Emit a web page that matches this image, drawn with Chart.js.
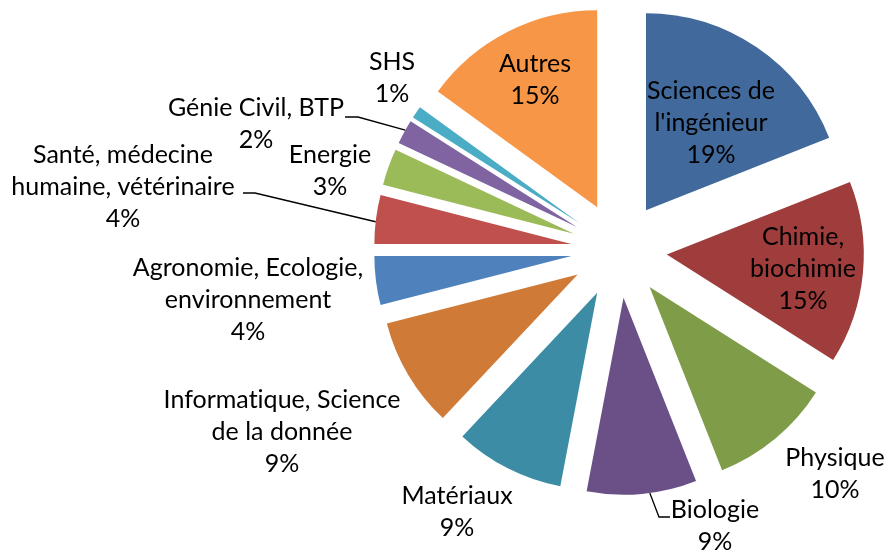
<!DOCTYPE html>
<html>
<head>
<meta charset="utf-8">
<script src="https://cdn.jsdelivr.net/npm/chart.js@4.4.0/dist/chart.umd.min.js"></script>
<style>
  body { margin: 0; background: #fff; }
  #wrap { width: 886px; height: 555px; position: relative; }
</style>
</head>
<body>
<div id="wrap"><canvas id="pie"></canvas></div>
<script>
// catégories (une ligne par élément de tableau)
var categories = [
    ['Sciences de', "l'ingénieur"],
    ['Chimie,', 'biochimie'],
    ['Physique'],
    ['Biologie'],
    ['Matériaux'],
    ['Informatique, Science', 'de la donnée'],
    ['Agronomie, Ecologie,', 'environnement'],
    ['Santé, médecine', 'humaine, vétérinaire'],
    ['Energie'],
    ['Génie Civil, BTP'],
    ['SHS'],
    ['Autres']
];
var percents = [19, 15, 10, 9, 9, 9, 4, 4, 3, 2, 1, 15];
var colors = ['#41699b', '#9e3d3b', '#7f9c48', '#6a5087', '#3b8ca4', '#cf7b37',
              '#4f81bd', '#c0504d', '#9bbb59', '#8064a2', '#4bacc6', '#f79646'];

// emplacement des étiquettes (centre de la 1re ligne)
var labelPos = [
    [711, 91], [803, 237], [835, 458], [715, 510], [457, 496], [282, 400],
    [248, 268], [123, 155], [330, 155], [256, 108], [392, 62], [535, 64]
];
// lignes de rappel : points côté texte + fraction de l'angle de la part
var leaders = {
    3: { pts: [[659, 517], [670, 517]], frac: 0.43, first: true },
    7: { pts: [[243, 193], [255, 193]], frac: 0.45 },
    9: { pts: [[345, 117], [358, 117]], frac: 0.58 }
};
var explode = 48;
var lineH = 32;

var explodePlugin = {
    id: 'explode',
    afterDatasetsUpdate: function(chart) {
        chart.getDatasetMeta(0).data.forEach(function(arc) {
            var mid = (arc.startAngle + arc.endAngle) / 2;
            arc.x += explode * Math.cos(mid);
            arc.y += explode * Math.sin(mid);
        });
    }
};

var labelPlugin = {
    id: 'pieLabels',
    afterDraw: function(chart) {
        var ctx = chart.ctx;
        var arcs = chart.getDatasetMeta(0).data;
        ctx.save();
        // lignes de rappel
        ctx.strokeStyle = '#000';
        ctx.lineWidth = 1.3;
        Object.keys(leaders).forEach(function(k) {
            var arc = arcs[k], ld = leaders[k];
            var a = arc.startAngle + (arc.endAngle - arc.startAngle) * ld.frac;
            var p = [arc.x + arc.outerRadius * Math.cos(a), arc.y + arc.outerRadius * Math.sin(a)];
            ctx.beginPath();
            if (ld.first) {
                ctx.moveTo(p[0], p[1]);
                ld.pts.forEach(function(q) { ctx.lineTo(q[0], q[1]); });
            } else {
                ctx.moveTo(ld.pts[0][0], ld.pts[0][1]);
                ctx.lineTo(ld.pts[1][0], ld.pts[1][1]);
                ctx.lineTo(p[0], p[1]);
            }
            ctx.stroke();
        });
        // textes
        ctx.fillStyle = '#000';
        ctx.font = '25px Lato';
        ctx.letterSpacing = '0.01px'; // pas de ligature "ti"
        ctx.textAlign = 'center';
        ctx.textBaseline = 'middle';
        categories.forEach(function(lines, i) {
            var all = lines.concat([percents[i] + '%']);
            all.forEach(function(t, j) {
                ctx.fillText(t, labelPos[i][0], labelPos[i][1] + j * lineH);
            });
        });
        ctx.restore();
    }
};

var ctx = document.getElementById('pie').getContext('2d');
var chart = new Chart(ctx, {
    type: 'pie',
    data: {
        labels: categories,
        datasets: [{
            data: percents,
            backgroundColor: colors,
            borderWidth: 0
        }]
    },
    options: {
        responsive: true,
        maintainAspectRatio: false,
        animation: false,
        events: [],
        radius: 197,
        layout: { padding: { left: 352, right: 0, top: 0, bottom: 55 } },
        plugins: {
            legend: { display: false },
            tooltip: { enabled: false }
        }
    },
    plugins: [explodePlugin, labelPlugin]
});
</script>
</body>
</html>
